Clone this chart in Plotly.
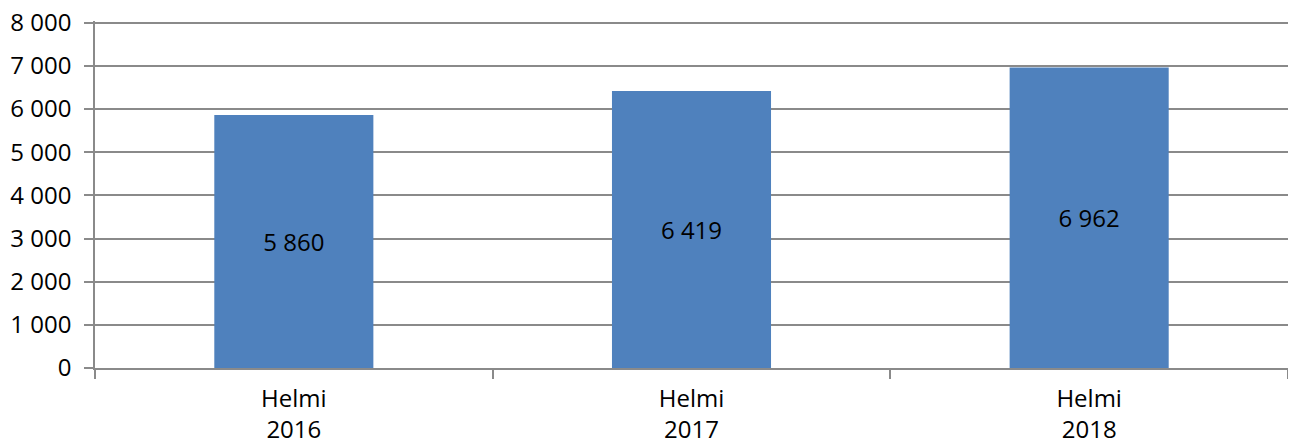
import plotly.graph_objects as go

categories = ["Helmi<br>2016", "Helmi<br>2017", "Helmi<br>2018"]
values = [5860, 6419, 6962]
y_ticks = [0, 1000, 2000, 3000, 4000, 5000, 6000, 7000, 8000]

FONT = "Open Sans"
GRID = "#8a8a8a"
FS = 24

fig = go.Figure(
    go.Bar(
        x=categories,
        y=values,
        width=0.4,
        marker=dict(color="#4F81BD", line=dict(width=0)),
        texttemplate="%{y:,d}",
        textposition="inside",
        insidetextanchor="middle",
        textfont=dict(family=FONT, size=FS, color="black"),
        textangle=0,
    )
)

fig.update_layout(
    width=1280,
    height=432,
    margin=dict(l=87, r=0, t=13, b=72),
    paper_bgcolor="white",
    plot_bgcolor="white",
    separators=", ",
    showlegend=False,
    font=dict(family=FONT, size=FS, color="black"),
)

fig.update_xaxes(
    type="category",
    automargin=False,
    showline=True,
    linecolor=GRID,
    linewidth=1.5,
    ticks="outside",
    tickson="boundaries",
    ticklen=9,
    tickcolor=GRID,
    tickwidth=1.5,
    showgrid=False,
    ticklabelstandoff=8,
    ticklabeloverflow="allow",
    tickfont=dict(family=FONT, size=FS, color="black"),
)

fig.update_yaxes(
    range=[0, 8040],
    automargin=False,
    tickvals=y_ticks,
    tickformat=",d",
    showline=True,
    linecolor=GRID,
    linewidth=1.5,
    ticks="outside",
    ticklen=9,
    tickcolor=GRID,
    tickwidth=1.5,
    showgrid=True,
    gridcolor=GRID,
    gridwidth=1.5,
    zeroline=False,
    ticklabelstandoff=8,
    ticklabeloverflow="allow",
    tickfont=dict(family=FONT, size=FS, color="black"),
)

fig.write_html("out.html")
